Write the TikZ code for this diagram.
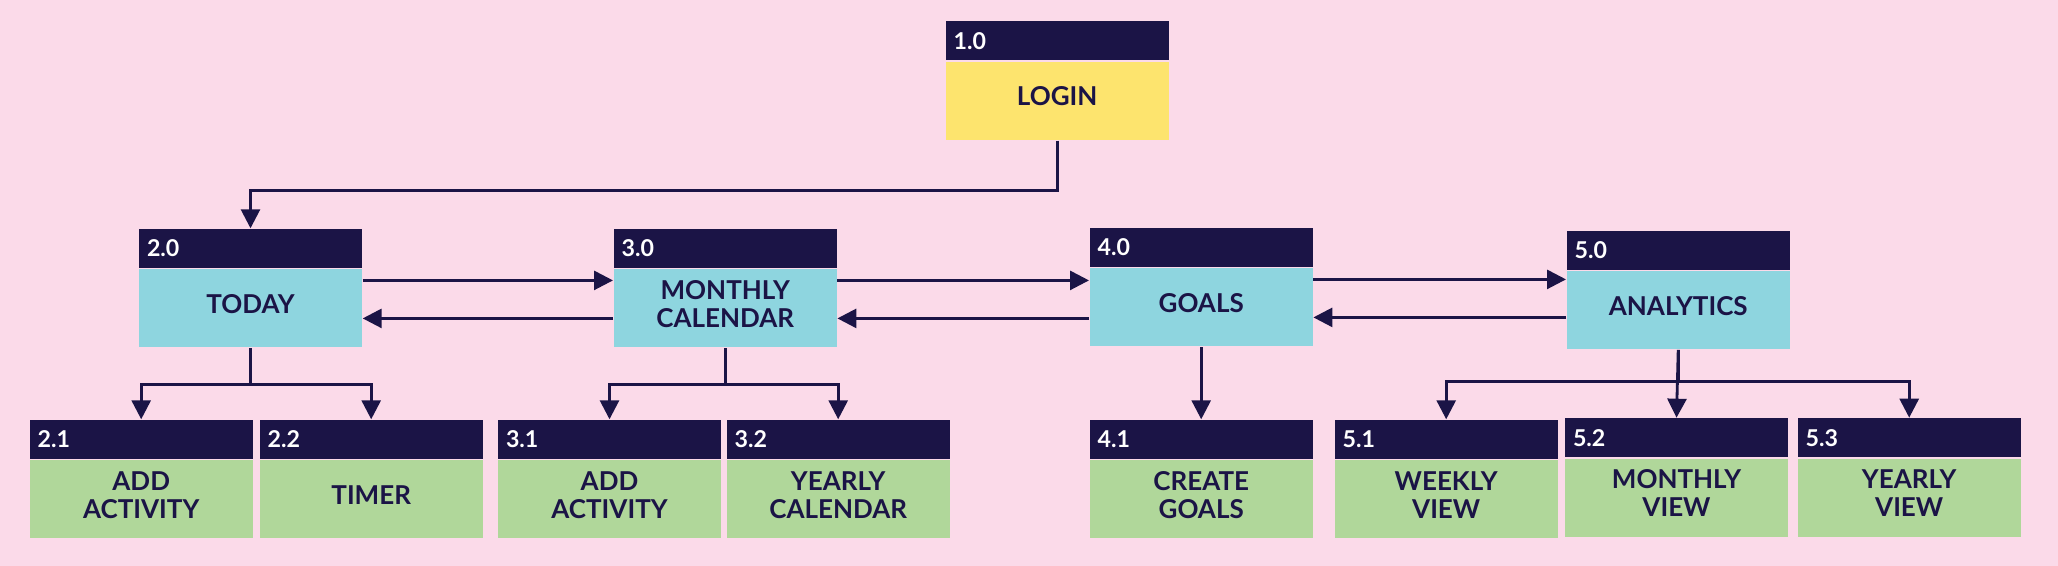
\documentclass[tikz,border=0pt]{standalone}
\usepackage{fontspec}
\setmainfont{Lato}
\usepackage{tikz}
\usetikzlibrary{arrows.meta}
\usetikzlibrary{positioning}
\definecolor{navy}{HTML}{1B1446}
\definecolor{pinkbg}{HTML}{FBDAE9}
\definecolor{loginyellow}{HTML}{FDE46E}
\definecolor{maincyan}{HTML}{8ED5DF}
\definecolor{subgreen}{HTML}{B0D79A}
\tikzset{arrow/.style={-{Triangle[length=1.9mm, width=1.9mm]}, line width=0.8pt, draw=navy}}
\tikzset{head/.style={fill=navy, text=white, anchor=north west, inner xsep=0.08cm, inner ysep=0pt,
    text width=2.07cm, minimum height=0.39cm, align=left, font=\bfseries\fontsize{6.6}{8}\selectfont}}
\tikzset{body/.style={minimum width=2.23cm, minimum height=0.78cm, inner sep=0pt, align=center,
    text depth=0.9mm, text=navy, font=\bfseries\fontsize{7.4}{8}\selectfont}}

\begin{document}
\begin{tikzpicture}
      \fill[pinkbg] (0, 0) rectangle (20.58, 5.66);

      \node[head] (h10) at (9.45, 5.453) {1.0};
      \node[body, fill=loginyellow, below=0pt of h10] (b10) {LOGIN};

      \node[head] (h20) at (1.383, 3.377) {2.0};
      \node[body, fill=maincyan, below=0pt of h20] (b20) {TODAY};
      \node[head] (h30) at (6.13, 3.377) {3.0};
      \node[body, fill=maincyan, below=0pt of h30] (b30) {MONTHLY\\CALENDAR};
      \node[head] (h40) at (10.89, 3.387) {4.0};
      \node[body, fill=maincyan, below=0pt of h40] (b40) {GOALS};
      \node[head] (h50) at (15.66, 3.36) {5.0};
      \node[body, fill=maincyan, below=0pt of h50] (b50) {ANALYTICS};

      \node[head] (h21) at (0.29, 1.467) {2.1};
      \node[body, fill=subgreen, below=0pt of h21] (b21) {ADD\\ACTIVITY};
      \node[head] (h22) at (2.59, 1.467) {2.2};
      \node[body, fill=subgreen, below=0pt of h22] (b22) {TIMER};
      \node[head] (h31) at (4.973, 1.467) {3.1};
      \node[body, fill=subgreen, below=0pt of h31] (b31) {ADD\\ACTIVITY};
      \node[head] (h32) at (7.26, 1.467) {3.2};
      \node[body, fill=subgreen, below=0pt of h32] (b32) {YEARLY\\CALENDAR};
      \node[head] (h41) at (10.89, 1.467) {4.1};
      \node[body, fill=subgreen, below=0pt of h41] (b41) {CREATE\\GOALS};
      \node[head] (h51) at (13.34, 1.467) {5.1};
      \node[body, fill=subgreen, below=0pt of h51] (b51) {WEEKLY\\VIEW};
      \node[head] (h52) at (15.643, 1.483) {5.2};
      \node[body, fill=subgreen, below=0pt of h52] (b52) {MONTHLY\\VIEW};
      \node[head] (h53) at (17.97, 1.483) {5.3};
      \node[body, fill=subgreen, below=0pt of h53] (b53) {YEARLY\\VIEW};

      % login down to today
      \draw[arrow] (b10.south) -- ++(0, -0.5) -| (h20.north);

      % back and forth along the main row
      \draw[arrow] ([yshift=2.8mm]b20.east) -- ([yshift=2.8mm]b20.east -| b30.west);
      \draw[arrow] ([yshift=-1mm]b20.east -| b30.west) -- ([yshift=-1mm]b20.east);
      \draw[arrow] ([yshift=2.8mm]b30.east) -- ([yshift=2.8mm]b30.east -| b40.west);
      \draw[arrow] ([yshift=-1mm]b30.east -| b40.west) -- ([yshift=-1mm]b30.east);
      \draw[arrow] ([yshift=2.8mm]b40.east) -- ([yshift=2.8mm]b40.east -| b50.west);
      \draw[arrow] ([yshift=-1mm]b40.east -| b50.west) -- ([yshift=-1mm]b40.east);

      % sub processes
      \draw[arrow] (b20.south) -- ++(0, -0.36) -| (h21.north);
      \draw[arrow] (b20.south) -- ++(0, -0.36) -| (h22.north);
      \draw[arrow] (b30.south) -- ++(0, -0.36) -| (h31.north);
      \draw[arrow] (b30.south) -- ++(0, -0.36) -| (h32.north);
      \draw[arrow] (b40.south) -- (h41.north);
      \draw[arrow] (b50.south) -- ++(0, -0.32) -| (h51.north);
      \draw[arrow] (b50.south) -- (h52.north);
      \draw[arrow] (b50.south) -- ++(0, -0.32) -| (h53.north);
    \end{tikzpicture}
\end{document}
